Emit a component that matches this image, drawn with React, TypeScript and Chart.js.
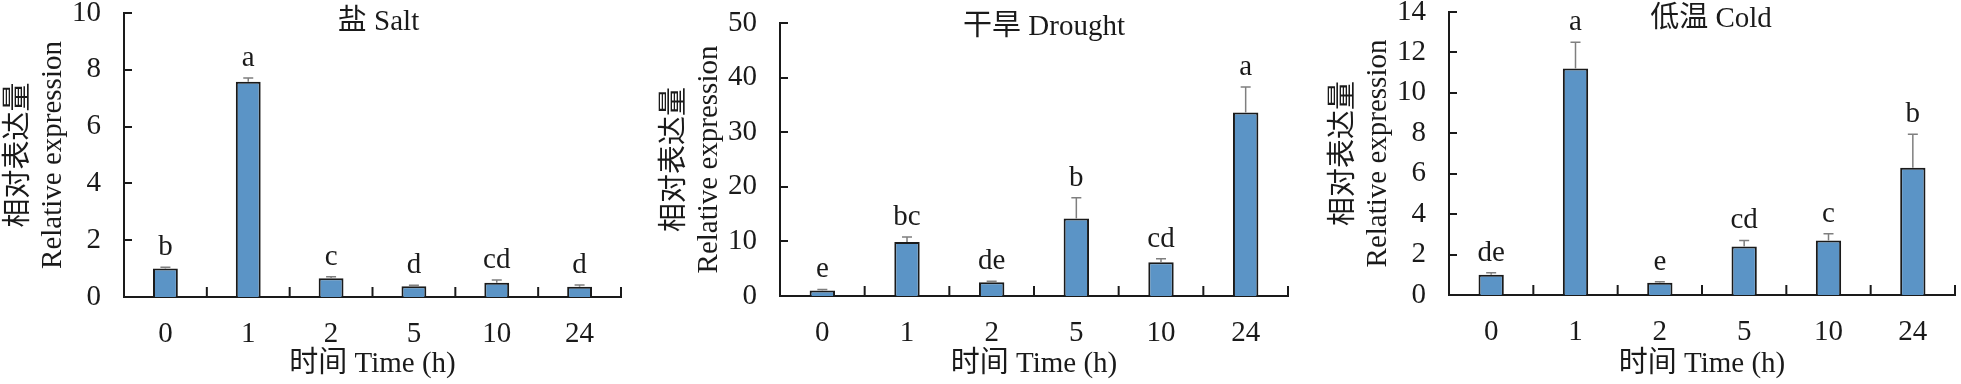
import React, { useEffect, useRef } from 'react';
import { Chart, registerables } from 'chart.js';

Chart.register(...registerables);

// ---------- data ----------
const categories = ['0', '1', '2', '5', '10', '24'];

const saltTitle = '盐 Salt';
const saltMeans = [1.0, 7.58, 0.66, 0.38, 0.5, 0.36];
const saltErrors = [0.05, 0.13, 0.05, 0.03, 0.1, 0.06];
const saltLetters = ['b', 'a', 'c', 'd', 'cd', 'd'];

const droughtTitle = '干旱 Drought';
const droughtMeans = [1.0, 9.9, 2.5, 14.2, 6.2, 33.6];
const droughtErrors = [0.2, 0.9, 0.2, 3.8, 0.6, 4.7];
const droughtLetters = ['e', 'bc', 'de', 'b', 'cd', 'a'];

const coldTitle = '低温 Cold';
const coldMeans = [1.0, 11.2, 0.6, 2.4, 2.7, 6.3];
const coldErrors = [0.1, 1.3, 0.05, 0.3, 0.33, 1.65];
const coldLetters = ['de', 'a', 'e', 'cd', 'c', 'b'];

const yTitle = ['相对表达量', 'Relative expression'];
const xTitle = '时间 Time (h)';

// ---------- style ----------
const FONT = '"Liberation Serif", "Times New Roman", "Noto Sans CJK SC", serif';
const INK = '#1a1a1a';
const BAR_FILL = '#5b94c6';
const ERR_COLOR = '#7f7f7f';
const FS = 29;

type Panel = {
  title: string;
  means: number[];
  errors: number[];
  letters: string[];
  yMax: number;
  yStep: number;
  left: number;
  width: number;
  padTop: number;
  padRight: number;
  xHeight: number;
  titleDx: number;
  titleDy: number;
};

const panels: Panel[] = [
  { title: saltTitle, means: saltMeans, errors: saltErrors, letters: saltLetters, yMax: 10, yStep: 2,
    left: 0, width: 656, padTop: 13, padRight: 35, xHeight: 87, titleDx: 6, titleDy: 9 },
  { title: droughtTitle, means: droughtMeans, errors: droughtErrors, letters: droughtLetters, yMax: 50, yStep: 10,
    left: 656, width: 669, padTop: 23, padRight: 37, xHeight: 88, titleDx: 10, titleDy: 4 },
  { title: coldTitle, means: coldMeans, errors: coldErrors, letters: coldLetters, yMax: 14, yStep: 2,
    left: 1325, width: 636, padTop: 12, padRight: 6, xHeight: 89, titleDx: 9, titleDy: 7 },
];

function decorPlugin(p: Panel) {
  return {
    id: 'decor',
    afterDraw(chart: any) {
      const ctx = chart.ctx as CanvasRenderingContext2D;
      const area = chart.chartArea;
      const xs = chart.scales.x;
      const ys = chart.scales.y;
      ctx.save();
      // inward y ticks
      ctx.strokeStyle = INK;
      ctx.lineWidth = 2;
      ys.ticks.forEach((t: any) => {
        const py = Math.round(ys.getPixelForValue(t.value));
        ctx.beginPath();
        ctx.moveTo(area.left, py);
        ctx.lineTo(area.left + 8, py);
        ctx.stroke();
      });
      // inward x ticks at category boundaries
      const n = categories.length;
      for (let i = 1; i <= n; i++) {
        const px = i < n ? (xs.getPixelForValue(i - 1) + xs.getPixelForValue(i)) / 2 : area.right;
        ctx.beginPath();
        ctx.moveTo(px, area.bottom);
        ctx.lineTo(px, area.bottom - 10);
        ctx.stroke();
      }
      // error bars and letters
      const meta = chart.getDatasetMeta(0);
      meta.data.forEach((bar: any, i: number) => {
        const topV = p.means[i] + p.errors[i];
        const ty = ys.getPixelForValue(topV);
        ctx.strokeStyle = ERR_COLOR;
        ctx.lineWidth = 1.5;
        ctx.beginPath();
        ctx.moveTo(bar.x, bar.y);
        ctx.lineTo(bar.x, ty);
        ctx.moveTo(bar.x - 5, ty);
        ctx.lineTo(bar.x + 5, ty);
        ctx.stroke();
        ctx.fillStyle = INK;
        ctx.font = `${FS}px ${FONT}`;
        ctx.textAlign = 'center';
        ctx.textBaseline = 'alphabetic';
        ctx.fillText(p.letters[i], bar.x, ty - 12);
      });
      // panel title
      ctx.fillStyle = INK;
      ctx.font = `${FS}px ${FONT}`;
      ctx.textAlign = 'center';
      ctx.textBaseline = 'middle';
      ctx.fillText(p.title, (area.left + area.right) / 2 + p.titleDx, area.top + p.titleDy);
      ctx.restore();
    },
  };
}

function PanelChart({ p }: { p: Panel }) {
  const ref = useRef<HTMLCanvasElement>(null);
  useEffect(() => {
    if (!ref.current) return;
    const chart = new Chart(ref.current, {
      type: 'bar',
      data: {
        labels: categories,
        datasets: [
          {
            data: p.means,
            backgroundColor: BAR_FILL,
            borderColor: INK,
            borderWidth: 2,
            barPercentage: 0.3,
            categoryPercentage: 1,
          },
        ],
      },
      options: {
        responsive: false,
        animation: false,
        devicePixelRatio: 1,
        layout: { padding: { top: p.padTop, right: p.padRight, bottom: 0, left: 0 } },
        plugins: {
          legend: { display: false },
          tooltip: { enabled: false },
          title: { display: false },
        },
        scales: {
          x: {
            grid: { display: false },
            border: { display: true, color: INK, width: 2 },
            ticks: { color: INK, font: { family: FONT, size: FS, lineHeight: 1.2 }, padding: 12, maxRotation: 0, autoSkip: false },
            title: {
              display: true,
              text: xTitle,
              color: INK,
              font: { family: FONT, size: FS, lineHeight: 1.2 },
              padding: { top: 0, bottom: 2 },
            },
            afterFit: (s: any) => {
              s.height = p.xHeight;
              s.paddingLeft = 0;
              s.paddingRight = 0;
            },
          },
          y: {
            min: 0,
            max: p.yMax,
            grid: { display: false },
            border: { display: true, color: INK, width: 2 },
            ticks: {
              stepSize: p.yStep,
              autoSkip: false,
              color: INK,
              font: { family: FONT, size: FS, lineHeight: 1.2 },
              padding: 15,
            },
            title: {
              display: true,
              text: yTitle,
              color: INK,
              font: { family: FONT, size: FS, lineHeight: 1.17 },
              padding: { top: 2, bottom: 0 },
            },
            afterFit: (s: any) => {
              s.width = 124;
              s.paddingTop = 0;
              s.paddingBottom = 0;
            },
          },
        },
      } as any,
      plugins: [decorPlugin(p)],
    });
    return () => chart.destroy();
  }, [p]);
  return (
    <div style={{ position: 'absolute', left: p.left, top: 0, width: p.width, height: 384 }}>
      <canvas ref={ref} width={p.width} height={384} style={{ display: 'block', width: p.width, height: 384 }} />
    </div>
  );
}

export default function App() {
  return (
    <div style={{ position: 'absolute', left: 0, top: 0, width: 1961, height: 384, background: '#fff', overflow: 'hidden' }}>
      {panels.map((p, i) => (
        <PanelChart key={i} p={p} />
      ))}
    </div>
  );
}
